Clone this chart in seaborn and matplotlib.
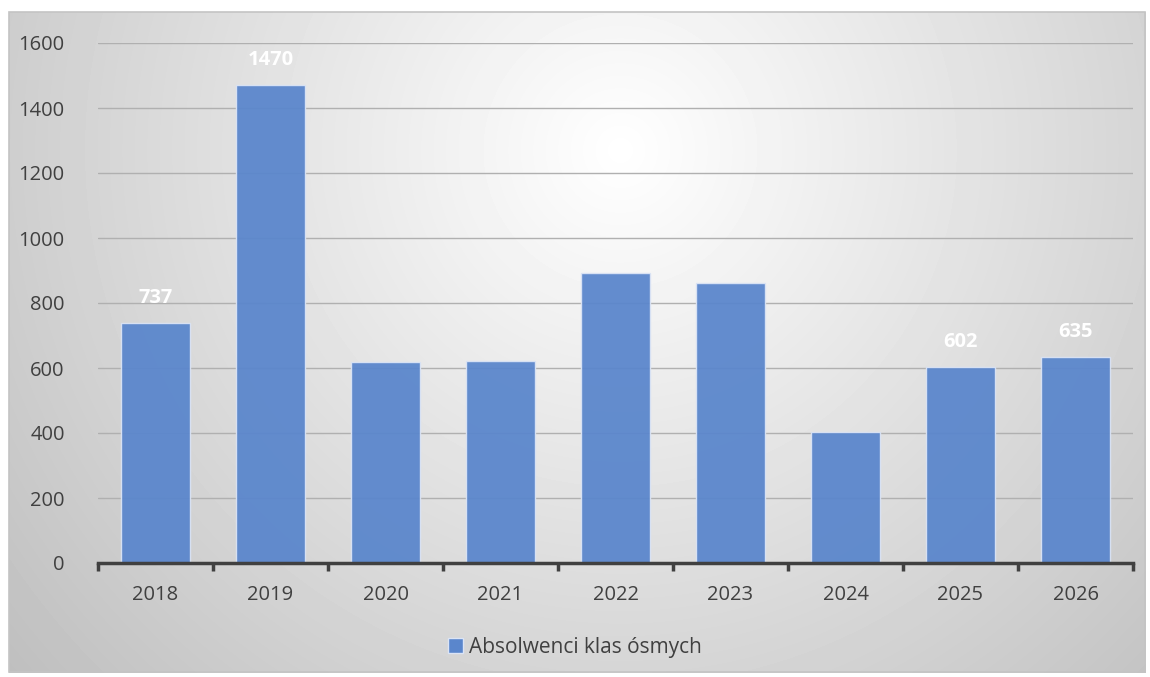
import numpy as np
import pandas as pd
import seaborn as sns
import matplotlib.pyplot as plt
from matplotlib.patches import Rectangle, Patch

years = ["2018", "2019", "2020", "2021", "2022", "2023", "2024", "2025", "2026"]
graduates = [737, 1470, 618, 621, 892, 862, 403, 602, 635]
labelled = ["2018", "2019", "2025", "2026"]
series_name = "Absolwenci klas ósmych"

bar_color = "#5A86CC"
text_color = "#404040"

sns.set_theme(style="white")
plt.rcParams["font.family"] = ["Open Sans", "DejaVu Sans"]

fig = plt.figure(figsize=(11.5, 6.77), dpi=100)

# radial grey background inside the frame
bg = fig.add_axes([0, 0, 1, 1], zorder=-10)
bg.set_xlim(0, 1150)
bg.set_ylim(677, 0)
bg.axis("off")
xx, yy = np.meshgrid(np.arange(9, 1146), np.arange(12, 673))
d = np.hypot(xx - 620, yy - 150)
shade = np.clip(255 - 64 * d / 800, 0, 255) / 255
bg.imshow(shade, cmap="gray", vmin=0, vmax=1, extent=(9, 1146, 673, 12),
          aspect="auto", interpolation="bilinear")
bg.add_patch(Rectangle((9, 12), 1136, 660, fill=False, edgecolor="#c4c4c4", lw=1.2))

ax = fig.add_axes([98 / 1150, 1 - 563 / 677, 1035 / 1150, 520 / 677])
ax.patch.set_alpha(0)

df = pd.DataFrame({"year": years, "value": graduates})
sns.barplot(data=df, x="year", y="value", color=bar_color, saturation=1, width=0.6,
            edgecolor="#dbe4f5", linewidth=1, ax=ax, zorder=3)
for p in ax.patches:
    p.set_alpha(0.94)

ax.set_ylim(0, 1600)
ax.set_xlim(-0.5, 8.5)
ax.set_yticks(range(0, 1601, 200))
ax.yaxis.grid(True, color="#b0b0b0", lw=1, zorder=1)
ax.set_axisbelow(True)
ax.set_xlabel("")
ax.set_ylabel("")
for s in ["left", "right", "top"]:
    ax.spines[s].set_visible(False)
ax.spines["bottom"].set_color(text_color)
ax.spines["bottom"].set_linewidth(2.5)
ax.spines["bottom"].set_zorder(5)

ax.set_xticks(np.arange(-0.5, 9.0, 1.0), minor=True)
ax.tick_params(axis="x", which="minor", bottom=True, length=6, width=2.5,
               color=text_color, direction="out")
ax.tick_params(axis="x", which="major", length=0, pad=16, labelsize=14.5, labelcolor=text_color)
ax.tick_params(axis="y", length=0, pad=24, labelsize=14.5, labelcolor=text_color)

for i, (yr, v) in enumerate(zip(years, graduates)):
    if yr in labelled:
        ax.annotate(str(v), (i, v), xytext=(0, 18), textcoords="offset points",
                    ha="center", va="center", color="white", fontsize=14.5,
                    fontweight="bold", zorder=6)

fig.legend(handles=[Patch(facecolor=bar_color, edgecolor="#dbe4f5", label=series_name)],
           loc="center", bbox_to_anchor=(0.5, 1 - 647 / 677), frameon=False,
           fontsize=15, handlelength=0.7, handleheight=0.7, handletextpad=0.3,
           labelcolor=text_color)

fig.savefig("out.png", dpi=100)
